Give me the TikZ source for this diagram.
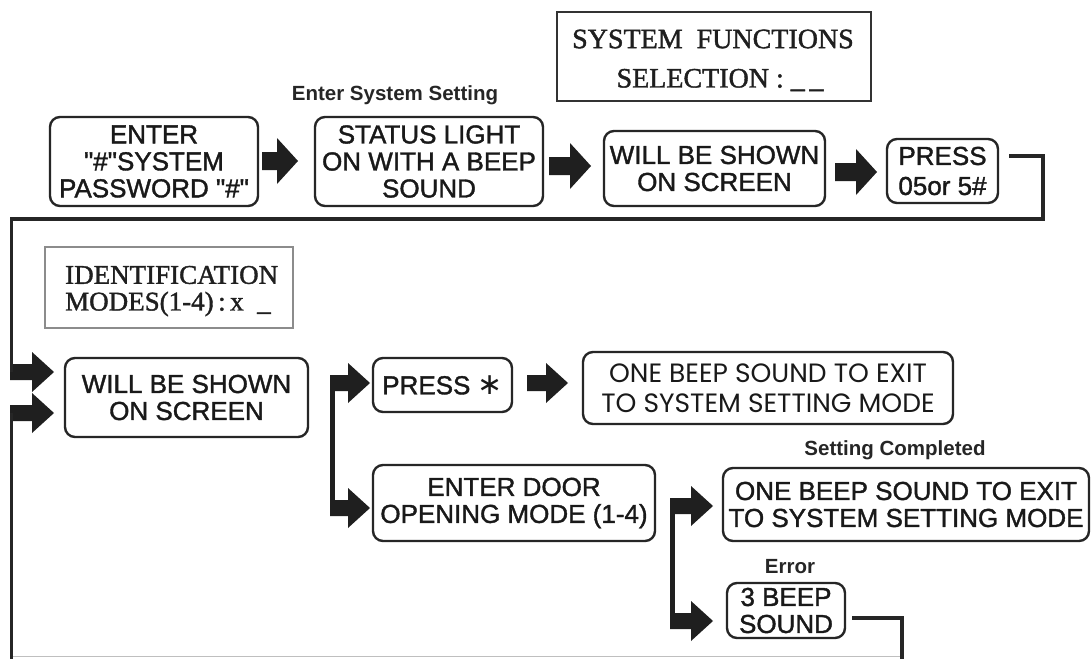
\documentclass[tikz,border=0pt]{standalone}
\usepackage{fontspec}
\setmainfont{Liberation Sans}
\newfontfamily\boxfont{Liberation Sans}[FakeBold=1.4]
\newfontfamily\seriffont{Liberation Serif}[FakeBold=1.4]
\newfontfamily\geofont{Poppins}
\newfontfamily\djvfont{DejaVu Sans}
\usetikzlibrary{calc}
\newcommand\blkarrow[5]{%
  \fill[black!88] ($(#1)+(0,-#3)$) -- ($(#2)+(-#5,-#3)$) -- ($(#2)+(-#5,-#4)$) -- (#2)
    -- ($(#2)+(-#5,#4)$) -- ($(#2)+(-#5,#3)$) -- ($(#1)+(0,#3)$) -- cycle;}
\newcommand\sq{\char34\relax}
\begin{document}
\begin{tikzpicture}[x=1pt,y=-1pt,
  rbox/.style={draw=black!85, line width=2.4pt, rounded corners=10pt, inner sep=0pt,
    align=center, text=black!90, font=\boxfont\fontsize{26}{27}\selectfont},
  lbl/.style={font=\bfseries\fontsize{20.5}{22}\selectfont, inner sep=0pt, text=black!85},
  conn/.style={draw=black!85, line width=3.2pt},
  lcd/.style={draw=black!80, line width=2pt, inner sep=0pt},
  lcdtext/.style={font=\seriffont\fontsize{27}{27}\selectfont, inner sep=0pt, text=black!88}
]
\useasboundingbox[fill=white] (0,0) rectangle (1091,658);

% ---- row 1 ----
\node[lcd, minimum width=314pt, minimum height=89pt] (sf) at (714,56.5) {};
\node[lcdtext, font=\seriffont\fontsize{28}{28}\selectfont] (sf1) at (713,39) {SYSTEM\ \ FUNCTIONS};
\node[lcdtext, font=\seriffont\fontsize{28}{28}\selectfont] (sf2) at (720,80) {SELECTION : \_\,\_};

\node[lbl] (ess) at (395,95) {Enter System Setting};

\node[rbox, minimum width=208pt, minimum height=89pt] (b1) at (154,161.5)
  {ENTER\\\sq\#\sq SYSTEM\\PASSWORD \sq\#\sq};
\node[rbox, minimum width=228pt, minimum height=89pt] (b2) at (429,161.5)
  {STATUS LIGHT\\ON WITH A BEEP\\SOUND};
\node[rbox, minimum width=221pt, minimum height=75pt] (b3) at (714.5,168.5)
  {WILL BE SHOWN\\ON SCREEN};
\node[rbox, minimum width=111pt, minimum height=64pt, font=\boxfont\fontsize{26}{30}\selectfont] (b4) at (942.5,171)
  {PRESS\\05or 5\#};

\coordinate (a1t) at (262,161); \coordinate (a1h) at (298,161);
\coordinate (a2t) at (549,166); \coordinate (a2h) at (591,166);
\coordinate (a3t) at (835,172); \coordinate (a3h) at (877,172);
\blkarrow{a1t}{a1h}{9}{23}{21}
\blkarrow{a2t}{a2h}{9}{23}{21}
\blkarrow{a3t}{a3h}{9}{23}{21}

% ---- row 2 ----
\node[draw=black!45, line width=1.2pt, minimum width=248pt, minimum height=81pt, inner sep=0pt] (id) at (169,287.5) {};
\node[lcdtext, anchor=west] (id1) at (65,275) {IDENTIFICATION};
\node[lcdtext, anchor=west] (id2) at (65,304) {MODES(1-4)\,:\,x\enspace\_};

\node[rbox, minimum width=243pt, minimum height=79pt] (b5) at (186.5,397.5)
  {WILL BE SHOWN\\ON SCREEN};
\node[rbox, minimum width=139pt, minimum height=54pt] (bp) at (442.5,385)
  {PRESS\ {\djvfont\fontsize{30}{30}\selectfont ∗}};
\node[rbox, minimum width=370pt, minimum height=72pt, font=\geofont\fontsize{26.5}{30}\selectfont] (bo1) at (768,388)
  {ONE BEEP SOUND TO EXIT\\TO SYSTEM SETTING MODE};
\node[rbox, minimum width=282pt, minimum height=76pt] (bd) at (514,503)
  {ENTER DOOR\\OPENING MODE (1-4)};
\node[lbl] (sc) at (895,450) {Setting Completed};
\node[rbox, minimum width=366pt, minimum height=73pt] (bo2) at (906,504.5)
  {ONE BEEP SOUND TO EXIT\\TO SYSTEM SETTING MODE};
\node[lbl] (err) at (790,567) {Error};
\node[rbox, minimum width=118pt, minimum height=55pt] (b3b) at (786,610.5)
  {3 BEEP\\SOUND};

% arrows row 2
\coordinate (l1t) at (10,372); \coordinate (l1h) at (54,372);
\coordinate (l2t) at (10,413); \coordinate (l2h) at (54,413);
\coordinate (pt) at (330,383); \coordinate (ph) at (370,383);
\coordinate (et) at (330,508); \coordinate (eh) at (370,508);
\coordinate (st) at (527,383); \coordinate (sh) at (568,383);
\coordinate (ct) at (670,506); \coordinate (ch) at (713,506);
\coordinate (rt) at (670,621); \coordinate (rh) at (713,621);
\foreach \a/\b in {l1t/l1h,l2t/l2h,pt/ph,et/eh,st/sh,ct/ch,rt/rh}{\blkarrow{\a}{\b}{8}{20}{22}}

% connectors
\coordinate (tr1) at (1043,156);
\coordinate (tr2) at (1043,219);
\coordinate (tl) at (11.5,219);
\draw[conn] ([shift={(10,-15)}]b4.east) -- (tr1) -- (tr2) -- (tl) -- (l1t -| tl);
\draw[draw=black!88, line width=5pt] ($(pt)+(2,-8)$) -- ($(et)+(2,8)$);
\draw[draw=black!88, line width=5pt] ($(ct)+(2,-8)$) -- ($(rt)+(2,8)$);
\coordinate (bl) at (11.5,659);
\coordinate (br1) at (902,618);
\coordinate (br2) at (902,659);
\draw[conn] (l2t -| bl) -- (bl);
\draw[conn] ([shift={(6,7.5)}]b3b.east) -- (br1) -- (br2);
\draw[draw=black!25, line width=1pt] (13,656.5) -- (900,656.5);
\end{tikzpicture}
\end{document}
